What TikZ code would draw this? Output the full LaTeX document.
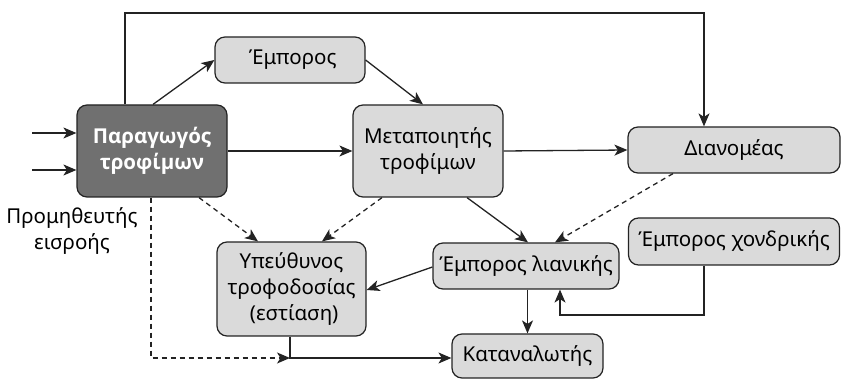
\documentclass[tikz,border=0pt]{standalone}
\usepackage{fontspec}
\setmainfont{Noto Sans}
\newfontfamily\boldnoto{Open Sans}
\usetikzlibrary{arrows.meta}
\definecolor{boxfill}{RGB}{218,218,218}
\definecolor{darkfill}{RGB}{112,112,112}
\definecolor{linec}{RGB}{35,35,35}
\tikzset{
  box/.style={draw=linec, line width=1.2pt, rounded corners=10pt, fill=boxfill, align=center, inner sep=0pt,
    font=\fontsize{20.5}{26}\selectfont},
  darkbox/.style={box, fill=darkfill, text=white, font=\fontsize{20.5}{26}\selectfont\boldnoto\bfseries},
  conn/.style={draw=linec, line width=1.3pt, -{Stealth[length=13pt,width=11pt,inset=3.5pt]}},
  dconn/.style={conn, dash pattern=on 5pt off 4pt},
}
\begin{document}
\begin{tikzpicture}[x=1pt,y=-1pt]
\useasboundingbox (0,0) rectangle (841,379);
\node[darkbox, minimum width=150pt, minimum height=92pt] (prod) at (152,151) {Παραγωγός\\τροφίμων};
\node[box, minimum width=150pt, minimum height=46pt] (emp) at (290,60) {\ Έμπορος};
\node[box, minimum width=150pt, minimum height=92pt] (proc) at (428,151) {Μεταποιητής\\τροφίμων};
\node[box, minimum width=212pt, minimum height=46pt] (dist) at (734,150) {Διανομέας};
\node[box, minimum width=149pt, minimum height=94pt] (cater) at (291.5,289) {Υπεύθυνος\\τροφοδοσίας\\\ (εστίαση)};
\node[box, minimum width=186pt, minimum height=46pt] (retail) at (526,266) {Έμπορος λιανικής};
\node[box, minimum width=211pt, minimum height=47pt] (whole) at (734,241.5) {Έμπορος χονδρικής};
\node[box, minimum width=151pt, minimum height=44pt] (cons) at (527.5,356) {Καταναλωτής};
\node[align=center, font=\fontsize{20.5}{26}\selectfont] (supp) at (72,231) {Προμηθευτής\\εισροής};

\coordinate (in1) at (32,133);
\coordinate (in2) at (32,170);
\draw[conn] (in1) -- (in1 -| prod.west);
\draw[conn] (in2) -- (in2 -| prod.west);

\coordinate (t1) at (125,13);
\coordinate (t2) at (704,13);
\draw[conn] (t1 |- prod.north) -- (t1) -- (t2) -- (t2 |- dist.north);

\draw[conn] ([xshift=1pt]prod.north) -- (emp.west);
\draw[conn] (emp.east) -- ([xshift=-5pt]proc.north);
\draw[conn] (prod.east) -- (proc.west);
\draw[conn] (proc.east) -- (dist.west);

\draw[dconn] ([xshift=47pt]prod.south) -- ([xshift=-33.5pt]cater.north);
\draw[dconn] ([xshift=-46pt]proc.south) -- ([xshift=30.5pt]cater.north);

\coordinate (c1) at (290,358);
\draw[dconn] ([xshift=-1pt]prod.south) -- (151,358) -- (c1);
\draw[conn] (c1 |- cater.south) -- (c1) -- (c1 -| cons.west);

\draw[conn] ([xshift=39pt]proc.south) -- ([xshift=2pt]retail.north);
\draw[dconn] ([xshift=-61pt]dist.south) -- ([xshift=29pt]retail.north);
\draw[conn] ([yshift=-1pt]retail.west) -- ([yshift=-1pt]cater.east);
\draw[conn] (retail.south -| cons.north) -- (cons.north);

\coordinate (w1) at (704,315);
\coordinate (w2) at (560,315);
\draw[conn] (w1 |- whole.south) -- (w1) -- (w2) -- (w2 |- retail.south);
\end{tikzpicture}
\end{document}
